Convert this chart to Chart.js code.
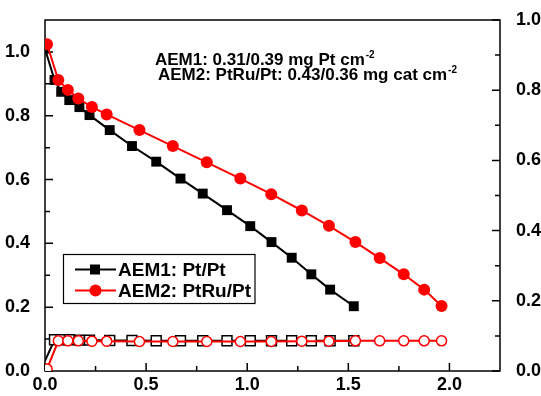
<!DOCTYPE html>
<html>
<head>
<meta charset="utf-8">
<script src="https://cdn.jsdelivr.net/npm/chart.js@4.4.0/dist/chart.umd.min.js"></script>
<style>
html, body { margin: 0; padding: 0; background: #fff; }
#wrap { width: 541px; height: 396px; }
</style>
</head>
<body>
<div id="wrap"><canvas id="polChart" width="541" height="396"></canvas></div>
<script>
// current density (x), cell voltage (left axis), HFR (right axis)
const aem1Current = [0, 0.047, 0.08, 0.12, 0.17, 0.22, 0.32, 0.43, 0.55, 0.67, 0.78, 0.90, 1.015, 1.12, 1.22, 1.317, 1.41, 1.527];
const aem1Voltage = [1.01, 0.912, 0.875, 0.849, 0.827, 0.802, 0.755, 0.705, 0.656, 0.603, 0.556, 0.504, 0.454, 0.404, 0.355, 0.303, 0.255, 0.203];
const aem1Hfr = [0.029, 0.089, 0.089, 0.089, 0.088, 0.088, 0.087, 0.087, 0.086, 0.086, 0.086, 0.086, 0.086, 0.086, 0.086, 0.086, 0.086, 0.086];

const aem2Current = [0.01, 0.066, 0.113, 0.165, 0.232, 0.305, 0.467, 0.632, 0.80, 0.966, 1.119, 1.27, 1.404, 1.535, 1.655, 1.774, 1.875, 1.961];
const aem2Voltage = [1.024, 0.912, 0.881, 0.854, 0.827, 0.804, 0.755, 0.705, 0.654, 0.603, 0.554, 0.503, 0.455, 0.404, 0.354, 0.303, 0.255, 0.204];
const aem2Hfr = [0.006, 0.086, 0.086, 0.086, 0.085, 0.085, 0.084, 0.084, 0.084, 0.084, 0.084, 0.085, 0.085, 0.086, 0.086, 0.086, 0.086, 0.086];

const xTicks = [0, 0.5, 1.0, 1.5, 2.0];
const xMinor = [0.25, 0.75, 1.25, 1.75];
const yTicks = [0, 0.2, 0.4, 0.6, 0.8, 1.0];
const yMinor = [0.1, 0.3, 0.5, 0.7, 0.9];
const y1Ticks = [0, 0.2, 0.4, 0.6, 0.8, 1.0];
const y1Minor = [0.1, 0.3, 0.5, 0.7, 0.9];

const seriesNames = ['AEM1: Pt/Pt', 'AEM2: PtRu/Pt'];

const FONT = "'Liberation Sans', Arial, sans-serif";

function pts(xs, ys) {
    return xs.map((x, i) => ({ x: x, y: ys[i] }));
}

const framePlugin = {
    id: 'frame',
    beforeDatasetsDraw(chart) {
        const ctx = chart.ctx;
        const a = chart.chartArea;
        const sx = chart.scales.x, sy = chart.scales.y, sy1 = chart.scales.y1;
        ctx.save();
        ctx.strokeStyle = '#000';
        ctx.lineWidth = 1.5;
        ctx.strokeRect(a.left, a.top, a.right - a.left, a.bottom - a.top);
        ctx.beginPath();
        xTicks.forEach(v => { const p = sx.getPixelForValue(v); ctx.moveTo(p, a.bottom); ctx.lineTo(p, a.bottom - 8); });
        xMinor.forEach(v => { const p = sx.getPixelForValue(v); ctx.moveTo(p, a.bottom); ctx.lineTo(p, a.bottom - 5); });
        yTicks.forEach(v => { const p = sy.getPixelForValue(v); ctx.moveTo(a.left, p); ctx.lineTo(a.left + 8, p); });
        yMinor.forEach(v => { const p = sy.getPixelForValue(v); ctx.moveTo(a.left, p); ctx.lineTo(a.left + 5, p); });
        y1Ticks.forEach(v => { const p = sy1.getPixelForValue(v); ctx.moveTo(a.right, p); ctx.lineTo(a.right - 8, p); });
        y1Minor.forEach(v => { const p = sy1.getPixelForValue(v); ctx.moveTo(a.right, p); ctx.lineTo(a.right - 5, p); });
        ctx.stroke();
        ctx.restore();
    }
};

function drawSup(ctx, x, y, main, sup) {
    ctx.font = 'bold 17px ' + FONT;
    ctx.fillText(main, x, y);
    const w = ctx.measureText(main).width;
    ctx.font = 'bold 10px ' + FONT;
    ctx.fillText(sup, x + w + 1, y - 7);
}

const notesPlugin = {
    id: 'notes',
    afterDraw(chart) {
        const ctx = chart.ctx;
        ctx.save();
        ctx.fillStyle = '#000';
        ctx.textBaseline = 'alphabetic';
        drawSup(ctx, 155, 65, 'AEM1: 0.31/0.39 mg Pt cm', '-2');
        drawSup(ctx, 158, 80, 'AEM2: PtRu/Pt: 0.43/0.36 mg cat cm', '-2');

        // legend
        ctx.strokeStyle = '#000';
        ctx.lineWidth = 1.2;
        ctx.strokeRect(63.5, 254.5, 191.5, 49);
        const rows = [chart.data.datasets[2], chart.data.datasets[0]];
        rows.forEach((ds, i) => {
            const cy = 269.5 + i * 21;
            ctx.strokeStyle = ds.borderColor;
            ctx.lineWidth = 2;
            ctx.beginPath();
            ctx.moveTo(75, cy);
            ctx.lineTo(116, cy);
            ctx.stroke();
            ctx.fillStyle = ds.pointBackgroundColor;
            if (ds.pointStyle === 'rect') {
                ctx.fillRect(90, cy - 5, 10, 10);
            } else {
                ctx.beginPath();
                ctx.arc(95.5, cy, 6, 0, Math.PI * 2);
                ctx.fill();
            }
            ctx.fillStyle = '#000';
            ctx.font = 'bold 19px ' + FONT;
            ctx.fillText(ds.label, 118, cy + 6.8);
        });
        ctx.restore();
    }
};

new Chart(document.getElementById('polChart'), {
    type: 'line',
    data: {
        datasets: [
            {
                label: seriesNames[1],
                data: pts(aem2Current, aem2Voltage),
                yAxisID: 'y',
                borderColor: '#ff0000',
                borderWidth: 2,
                pointStyle: 'circle',
                pointRadius: 6,
                pointBorderWidth: 0,
                pointBackgroundColor: '#ff0000',
                order: 1
            },
            {
                label: seriesNames[1] + ' HFR',
                data: pts(aem2Current, aem2Hfr),
                yAxisID: 'y1',
                borderColor: '#ff0000',
                borderWidth: 2,
                pointStyle: 'circle',
                pointRadius: 5,
                pointBorderWidth: 1.5,
                pointBorderColor: '#ff0000',
                pointBackgroundColor: '#ffffff',
                order: 1
            },
            {
                label: seriesNames[0],
                data: pts(aem1Current, aem1Voltage),
                yAxisID: 'y',
                borderColor: '#000000',
                borderWidth: 2,
                pointStyle: 'rect',
                pointRadius: 7,
                pointBorderWidth: 0,
                pointBackgroundColor: '#000000',
                order: 2
            },
            {
                label: seriesNames[0] + ' HFR',
                data: pts(aem1Current, aem1Hfr),
                yAxisID: 'y1',
                borderColor: '#000000',
                borderWidth: 2,
                pointStyle: 'rect',
                pointRadius: ctx => ctx.dataIndex === 0 ? 0 : 7,
                pointBorderWidth: 1.5,
                pointBorderColor: '#000000',
                pointBackgroundColor: '#ffffff',
                order: 2
            }
        ]
    },
    options: {
        responsive: false,
        devicePixelRatio: 1,
        animation: false,
        layout: { padding: { top: 20, left: 0, right: 0, bottom: 0 } },
        plugins: {
            legend: { display: false },
            tooltip: { enabled: false }
        },
        scales: {
            x: {
                type: 'linear',
                min: 0,
                max: 2.25,
                grid: { display: false },
                border: { display: false },
                afterBuildTicks: s => { s.ticks = xTicks.map(v => ({ value: v })); },
                afterFit: s => { s.height = 25; },
                ticks: {
                    padding: -5,
                    color: '#000',
                    font: { family: FONT, size: 18, weight: 'bold' },
                    callback: v => v.toFixed(1),
                    maxRotation: 0
                }
            },
            y: {
                type: 'linear',
                position: 'left',
                min: 0,
                max: 1.1,
                grid: { display: false },
                border: { display: false },
                afterBuildTicks: s => { s.ticks = yTicks.map(v => ({ value: v })); },
                afterFit: s => { s.width = 45; },
                ticks: {
                    padding: 7,
                    color: '#000',
                    font: { family: FONT, size: 18, weight: 'bold' },
                    callback: v => v.toFixed(1)
                }
            },
            y1: {
                type: 'linear',
                position: 'right',
                min: 0,
                max: 1.0,
                grid: { display: false },
                border: { display: false },
                afterBuildTicks: s => { s.ticks = y1Ticks.map(v => ({ value: v })); },
                afterFit: s => { s.width = 41; },
                ticks: {
                    padding: 8,
                    color: '#000',
                    font: { family: FONT, size: 18, weight: 'bold' },
                    callback: v => v.toFixed(1)
                }
            }
        }
    },
    plugins: [framePlugin, notesPlugin]
});
</script>
</body>
</html>
